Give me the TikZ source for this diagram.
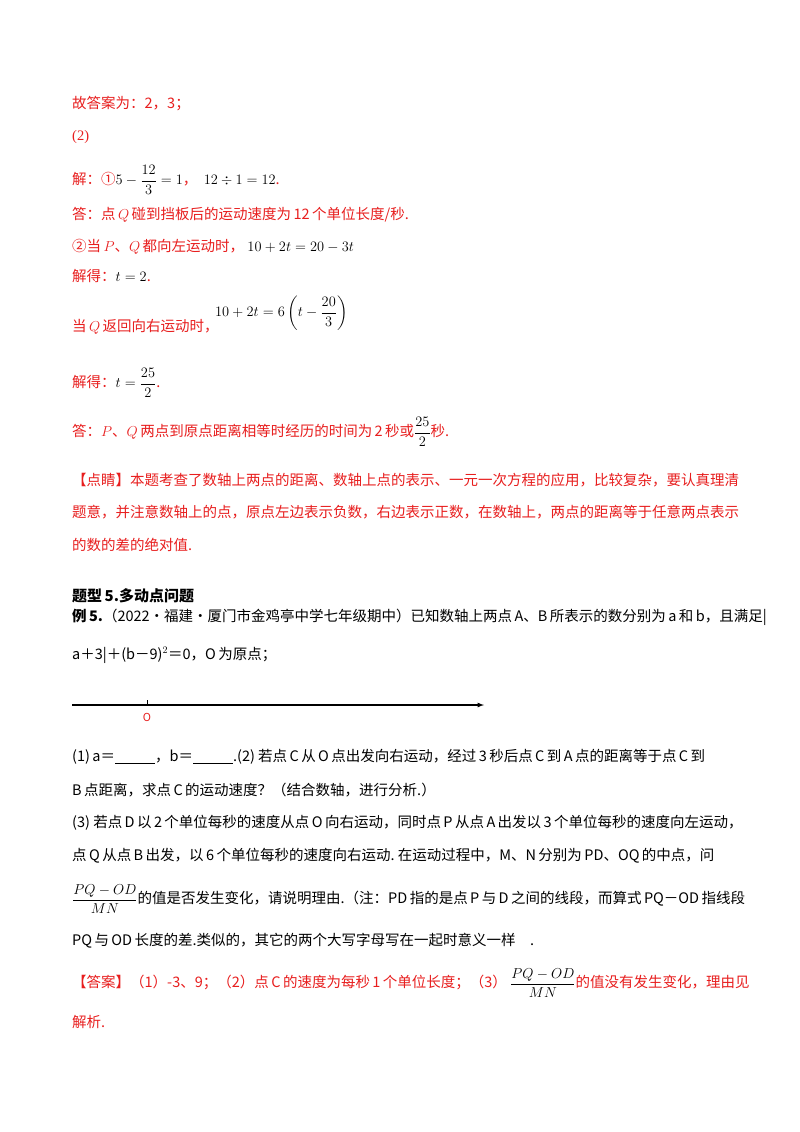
\documentclass[tikz,border=0pt]{standalone}
\usepackage{amsmath}
\usepackage{fontspec}
\setmainfont{Noto Sans CJK SC}
\newfontfamily\lat{Liberation Serif}
\definecolor{ans}{RGB}{232,30,30}
\begin{document}
\begin{tikzpicture}[x=1pt,y=-1pt,
  t/.style={anchor=west,inner sep=0pt,font=\fontsize{14.5}{16}\selectfont},
  r/.style={t,text=ans},
  k/.style={t,text=black}]
\useasboundingbox[fill=white] (0,0) rectangle (800,1132);
\node[r] (l1) at (72,104) {故答案为：2，3；};
\node[r] (l2) at (72,137) {\lat(2)};
\node[r] (l3) at (72,180) {解：①$\color{black}5-\dfrac{12}{3}=1$，\ \ $\color{black}12\div1=12$.};
\node[r] (l4) at (72,215) {答：点\,$Q$\,碰到挡板后的运动速度为\,12\,个单位长度/秒.};
\node[r] (l5) at (72,247) {②当\,$P$、$Q$\,都向左运动时，\ $\color{black}10+2t=20-3t$};
\node[r] (l6) at (72,276) {解得：$\color{black}t=2$.};
\node[r] (l7) at (72,327) {当\,$Q$\,返回向右运动时，};
\node[k] (l7m) at (215,313) {$10+2t=6\left(t-\dfrac{20}{3}\right)$};
\node[r] (l8) at (72,383) {解得：$\color{black}t=\dfrac{25}{2}$.};
\node[r] (l9) at (72,432) {答：$P$、$Q$\,两点到原点距离相等时经历的时间为\,2\,秒或$\color{black}\dfrac{25}{2}$秒.};
\node[r] (l10) at (72,480) {【点睛】本题考查了数轴上两点的距离、数轴上点的表示、一元一次方程的应用，比较复杂，要认真理清};
\node[r] (l11) at (72,512) {题意，并注意数轴上的点，原点左边表示负数，右边表示正数，在数轴上，两点的距离等于任意两点表示};
\node[r] (l12) at (72,545) {的数的差的绝对值.};
\node[k,font=\fontsize{15}{16}\selectfont\bfseries] (h) at (72,596) {题型\,5.多动点问题};
\node[k] (e1) at (72,617) {\textbf{例\,5.}（2022·福建·厦门市金鸡亭中学七年级期中）已知数轴上两点\,A、B\,所表示的数分别为\,a\,和\,b，且满足|};
\node[k] (e2) at (72,655) {a＋3|＋(b－9)$^2$＝0，O\,为原点；};
\coordinate (a0) at (72,705);
\coordinate (a1) at (484,705);
\draw[line width=1.2pt,-latex] (a0) -- (a1);
\coordinate (tk) at (147,700);
\draw (tk) -- ++(0,5);
\node[text=ans,font=\fontsize{11}{12}\selectfont,inner sep=0pt] (O) at (147,717) {O};
\node[k] (q1) at (72,757) {(1)\,a＝\underline{\hspace{40pt}}，b＝\underline{\hspace{40pt}}.(2)\ 若点\,C\,从\,O\,点出发向右运动，经过\,3\,秒后点\,C\,到\,A\,点的距离等于点\,C\,到};
\node[k] (q2) at (72,790) {B\,点距离，求点\,C\,的运动速度？（结合数轴，进行分析.）};
\node[k] (q3) at (72,823) {(3)\ 若点\,D\,以\,2\,个单位每秒的速度从点\,O\,向右运动，同时点\,P\,从点\,A\,出发以\,3\,个单位每秒的速度向左运动，};
\node[k] (q4) at (72,856) {点\,Q\,从点\,B\,出发，以\,6\,个单位每秒的速度向右运动.\ 在运动过程中，M、N\,分别为\,PD、OQ\,的中点，问};
\node[k] (q5) at (72,899) {$\dfrac{PQ-OD}{MN}$的值是否发生变化，请说明理由.（注：PD\,指的是点\,P\,与\,D\,之间的线段，而算式\,PQ－OD\,指线段};
\node[k] (q6) at (72,941) {PQ\,与\,OD\,长度的差.类似的，其它的两个大写字母写在一起时意义一样\quad.};
\node[r] (ans) at (72,983) {【答案】（1）-3、9；（2）点\,C\,的速度为每秒\,1\,个单位长度；（3）\ $\color{black}\dfrac{PQ-OD}{MN}$的值没有发生变化，理由见};
\node[r] (ans2) at (72,1022) {解析.};
\end{tikzpicture}
\end{document}
